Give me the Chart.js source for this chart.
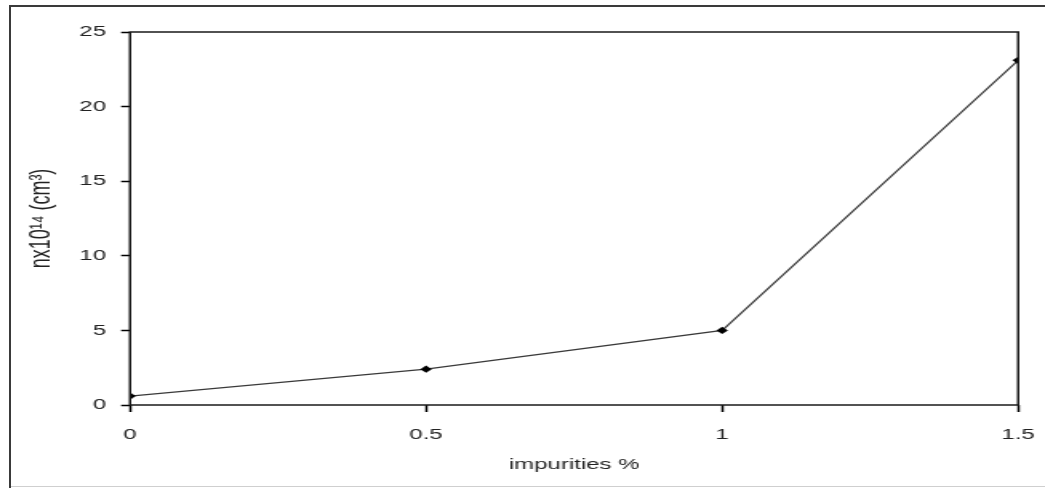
<!DOCTYPE html>
<html>
<head>
<meta charset="utf-8">
<script src="https://cdn.jsdelivr.net/npm/chart.js@4/dist/chart.umd.min.js"></script>
<style>
  html, body { margin: 0; padding: 0; background: #fff; overflow: hidden; }
  body { width: 1045px; height: 488px; position: relative; }
  #frame { position: absolute; left: 9px; top: 5px; width: 1100px; height: 600px;
           border-left: 2px solid #3a3a3a; border-top: 2px solid #3a3a3a; }
  #base { position: absolute; left: 11px; top: 486px; width: 1040px; height: 1px; background: #cfcfcf; }
  /* the source picture is stretched sideways, so the chart is drawn narrow and scaled */
  #wrap { position: absolute; left: 0; top: 0; width: 653px; height: 488px;
          transform: scaleX(1.6003); transform-origin: 0 0; }
</style>
</head>
<body>
<div id="frame"></div>
<div id="base"></div>
<div id="wrap"><canvas id="c" width="653" height="488"></canvas></div>
<script>
const impurities = [0, 0.5, 1, 1.5];
const density = [0.6, 2.4, 5.0, 23.1];
const xTicks = [0, 0.5, 1, 1.5];
const yTicks = [0, 5, 10, 15, 20, 25];

const font = { family: 'Liberation Sans, Arial, sans-serif', size: 15 };

const frameBox = {
  id: 'frameBox',
  afterDraw(chart) {
    const { ctx, chartArea: a } = chart;
    ctx.save();
    ctx.strokeStyle = '#1a1a1a';
    ctx.lineWidth = 1.5;
    ctx.strokeRect(a.left, a.top, a.right - a.left, a.bottom - a.top);
    ctx.restore();
  }
};

new Chart(document.getElementById('c'), {
  type: 'scatter',
  data: {
    datasets: [{
      data: impurities.map((x, i) => ({ x: x, y: density[i] })),
      showLine: true,
      borderColor: '#3a3a3a',
      borderWidth: 1.2,
      pointStyle: 'rectRot',
      pointRadius: 3.6,
      pointBackgroundColor: '#000',
      pointBorderColor: '#000',
      pointBorderWidth: 0
    }]
  },
  options: {
    responsive: false,
    animation: false,
    layout: { padding: { top: 32, right: 16.75, bottom: 0, left: 0 } },
    plugins: { legend: { display: false }, tooltip: { enabled: false } },
    scales: {
      x: {
        type: 'linear', min: 0, max: 1.5,
        afterBuildTicks: s => { s.ticks = xTicks.map(v => ({ value: v })); },
        afterFit: s => { s.height = 83; s.paddingLeft = 0; s.paddingRight = 0; },
        grid: { drawOnChartArea: false, tickLength: 7, tickColor: '#000', tickWidth: 1.5 },
        border: { display: false },
        ticks: { color: '#222', font: font, padding: 14, maxRotation: 0, callback: v => String(v) },
        title: { display: true, text: 'impurities %', color: '#222', font: font,
                 padding: { top: 0, bottom: 14 } }
      },
      y: {
        min: 0, max: 25,
        afterBuildTicks: s => { s.ticks = yTicks.map(v => ({ value: v })); },
        afterFit: s => { s.width = 81.25; s.paddingTop = 0; s.paddingBottom = 0; },
        grid: { drawOnChartArea: false, tickLength: 5.6, tickColor: '#000', tickWidth: 1.5 },
        border: { display: false },
        ticks: { color: '#222', font: font, padding: 9.4, callback: v => String(v) },
        title: { display: true, text: 'nx10¹⁴ (cm³)', color: '#222',
                 font: { family: font.family, size: 18 },
                 padding: { top: 15, bottom: 0 } }
      }
    }
  },
  plugins: [frameBox]
});
</script>
</body>
</html>
